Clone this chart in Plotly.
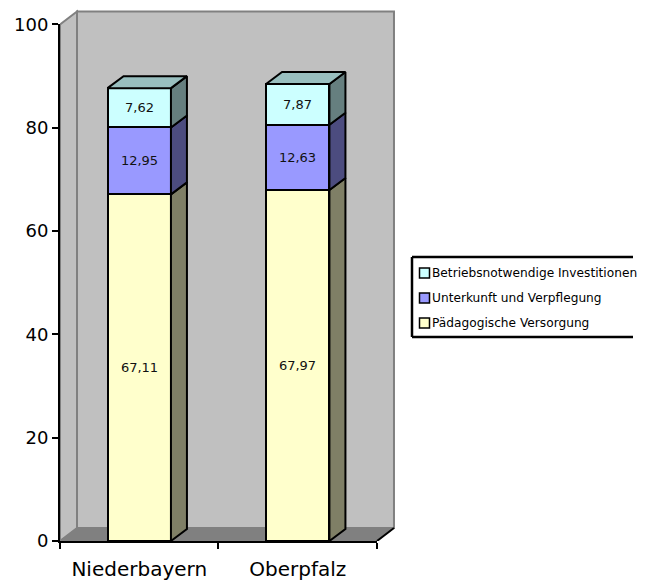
import plotly.graph_objects as go

# ---- data -------------------------------------------------------------
regions = ["Niederbayern", "Oberpfalz"]
paedagogik = [67.11, 67.97]          # Pädagogische Versorgung
unterkunft = [12.95, 12.63]          # Unterkunft und Verpflegung
investitionen = [7.62, 7.87]         # Betriebsnotwendige Investitionen
series_names = ["Pädagogische Versorgung", "Unterkunft und Verpflegung",
                "Betriebsnotwendige Investitionen"]
y_ticks = [0, 20, 40, 60, 80, 100]

# ---- styling ----------------------------------------------------------
front_colors = ["#FFFFCC", "#9999FF", "#CCFFFF"]
FONT = "DejaVu Sans"
PAGE_W, PAGE_H = 648, 582
ML, MT, MB = 60, 9, 41
X_MIN, X_MAX = -0.5, 1.62
Y_MAX = 103.0
PX_PER_X = 158.5
PLOT_W = round((X_MAX - X_MIN) * PX_PER_X)
PLOT_H = PAGE_H - MT - MB
PX_PER_Y = PLOT_H / Y_MAX
MR = PAGE_W - ML - PLOT_W

BAR_W = 0.4
# oblique depth of the 3-D look, in pixels, converted to axis units
BAR_DX, BAR_DY = 16 / PX_PER_X, 12 / PX_PER_Y
WALL_DX, WALL_DY = 17 / PX_PER_X, 13 / PX_PER_Y


def shade(hex_color, f):
    h = hex_color.lstrip("#")
    r, g, b = (int(h[i:i + 2], 16) for i in (0, 2, 4))
    return "#%02X%02X%02X" % (int(r * f), int(g * f), int(b * f))


def px_x(px):
    return (px - ML) / PLOT_W


def px_y(py):
    return (PAGE_H - MB - py) / PLOT_H


series = [paedagogik, unterkunft, investitionen]
xs = list(range(len(regions)))

fig = go.Figure()

# front faces: stacked bars
for name, vals, col in zip(series_names, series, front_colors):
    fig.add_trace(go.Bar(
        x=xs, y=vals, width=BAR_W, name=name,
        marker=dict(color=col, line=dict(color="black", width=2)),
        texttemplate="%{y:.2f}", textposition="inside",
        insidetextanchor="middle", textangle=0, constraintext="none",
        textfont=dict(family=FONT, size=13, color="#111111"),
        showlegend=False, hoverinfo="skip",
    ))

# side faces and top face derived from the stacked values
for i, x in enumerate(xs):
    base = 0.0
    for k, (vals, col) in enumerate(zip(series, front_colors)):
        top = base + vals[i]
        xr = x + BAR_W / 2
        fig.add_trace(go.Scatter(
            x=[xr, xr + BAR_DX, xr + BAR_DX, xr, xr],
            y=[base, base + BAR_DY, top + BAR_DY, top, base],
            mode="lines", fill="toself", fillcolor=shade(col, 0.5),
            line=dict(color="black", width=2),
            showlegend=False, hoverinfo="skip",
        ))
        if k == len(series) - 1:
            xl = x - BAR_W / 2
            fig.add_trace(go.Scatter(
                x=[xl, xl + BAR_DX, xr + BAR_DX, xr, xl],
                y=[top, top + BAR_DY, top + BAR_DY, top, top],
                mode="lines", fill="toself", fillcolor=shade(col, 0.75),
                line=dict(color="black", width=2),
                showlegend=False, hoverinfo="skip",
            ))
        base = top

# axis carrier for the visible category / value axes
fig.add_trace(go.Scatter(x=regions, y=[None] * len(regions), xaxis="x2",
                         yaxis="y2", mode="markers", showlegend=False,
                         hoverinfo="skip"))

# walls and floor of the 3-D frame
x0, x1 = -0.5, len(regions) - 0.5
shapes = [
    # back wall
    dict(type="rect", xref="x", yref="y", layer="below",
         x0=x0 + WALL_DX, x1=x1 + WALL_DX, y0=WALL_DY, y1=y_ticks[-1] + WALL_DY,
         fillcolor="#C0C0C0", line=dict(color="#808080", width=2)),
    # left side wall
    dict(type="path", xref="x", yref="y", layer="below",
         path=f"M{x0},0 L{x0 + WALL_DX},{WALL_DY} L{x0 + WALL_DX},{y_ticks[-1] + WALL_DY} "
              f"L{x0},{y_ticks[-1]} Z",
         fillcolor="#C0C0C0", line=dict(color="#808080", width=2)),
    # floor
    dict(type="path", xref="x", yref="y", layer="below",
         path=f"M{x0},0 L{x1},0 L{x1 + WALL_DX},{WALL_DY} L{x0 + WALL_DX},{WALL_DY} Z",
         fillcolor="#808080", line=dict(color="#808080", width=1)),
    # floor right edge
    dict(type="line", xref="x", yref="y", layer="below",
         x0=x1, y0=0, x1=x1 + WALL_DX, y1=WALL_DY,
         line=dict(color="black", width=2)),
]

# legend drawn as an open box (top, left and bottom edges)
LEG_L, LEG_R, LEG_T, LEG_B = 412, 633, 257, 337
for (ax0, ay0, ax1, ay1) in [(LEG_L, LEG_T, LEG_R, LEG_T), (LEG_L, LEG_B, LEG_R, LEG_B),
                             (LEG_L, LEG_T, LEG_L, LEG_B)]:
    shapes.append(dict(type="line", xref="paper", yref="paper",
                       x0=px_x(ax0), y0=px_y(ay0), x1=px_x(ax1), y1=px_y(ay1),
                       line=dict(color="black", width=2.5)))
annotations = []
leg_rows = [273, 298, 323]
for row_y, name, col in zip(leg_rows, series_names[::-1], front_colors[::-1]):
    shapes.append(dict(type="rect", xref="paper", yref="paper",
                       x0=px_x(419.5), x1=px_x(429.5), y0=px_y(row_y + 5), y1=px_y(row_y - 5),
                       fillcolor=col, line=dict(color="black", width=1.5)))
    annotations.append(dict(xref="paper", yref="paper", x=px_x(430), y=px_y(row_y),
                            xanchor="left", yanchor="middle", text=name, showarrow=False,
                            align="left",
                            font=dict(family=FONT, size=12.2, color="black")))

axis_common = dict(showgrid=False, zeroline=False, ticks="outside", ticklen=6,
                   tickwidth=2, tickcolor="black", showline=True, linecolor="black",
                   linewidth=2, automargin=False)

fig.update_layout(
    template="none",
    width=PAGE_W, height=PAGE_H,
    margin=dict(l=ML, r=MR, t=MT, b=MB, pad=0),
    paper_bgcolor="white", plot_bgcolor="rgba(0,0,0,0)",
    barmode="stack", bargap=0, separators=",.",
    showlegend=False,
    xaxis=dict(range=[X_MIN, X_MAX], visible=False, domain=[0, 1], anchor="y",
               automargin=False),
    yaxis=dict(range=[0, Y_MAX], visible=False, domain=[0, 1], anchor="x",
               automargin=False),
    xaxis2=dict(type="category", categoryarray=regions, range=[-0.5, len(regions) - 0.5],
                domain=[0, (x1 - X_MIN) / (X_MAX - X_MIN)], anchor="y2",
                tickson="boundaries", ticklabelstandoff=9,
                tickfont=dict(family=FONT, size=20, color="black"), **axis_common),
    yaxis2=dict(range=[0, y_ticks[-1]], tickvals=y_ticks,
                domain=[0, y_ticks[-1] / Y_MAX], anchor="x2",
                tickfont=dict(family=FONT, size=18, color="black"), **axis_common),
    shapes=shapes, annotations=annotations,
)

fig.write_html("out.html")
